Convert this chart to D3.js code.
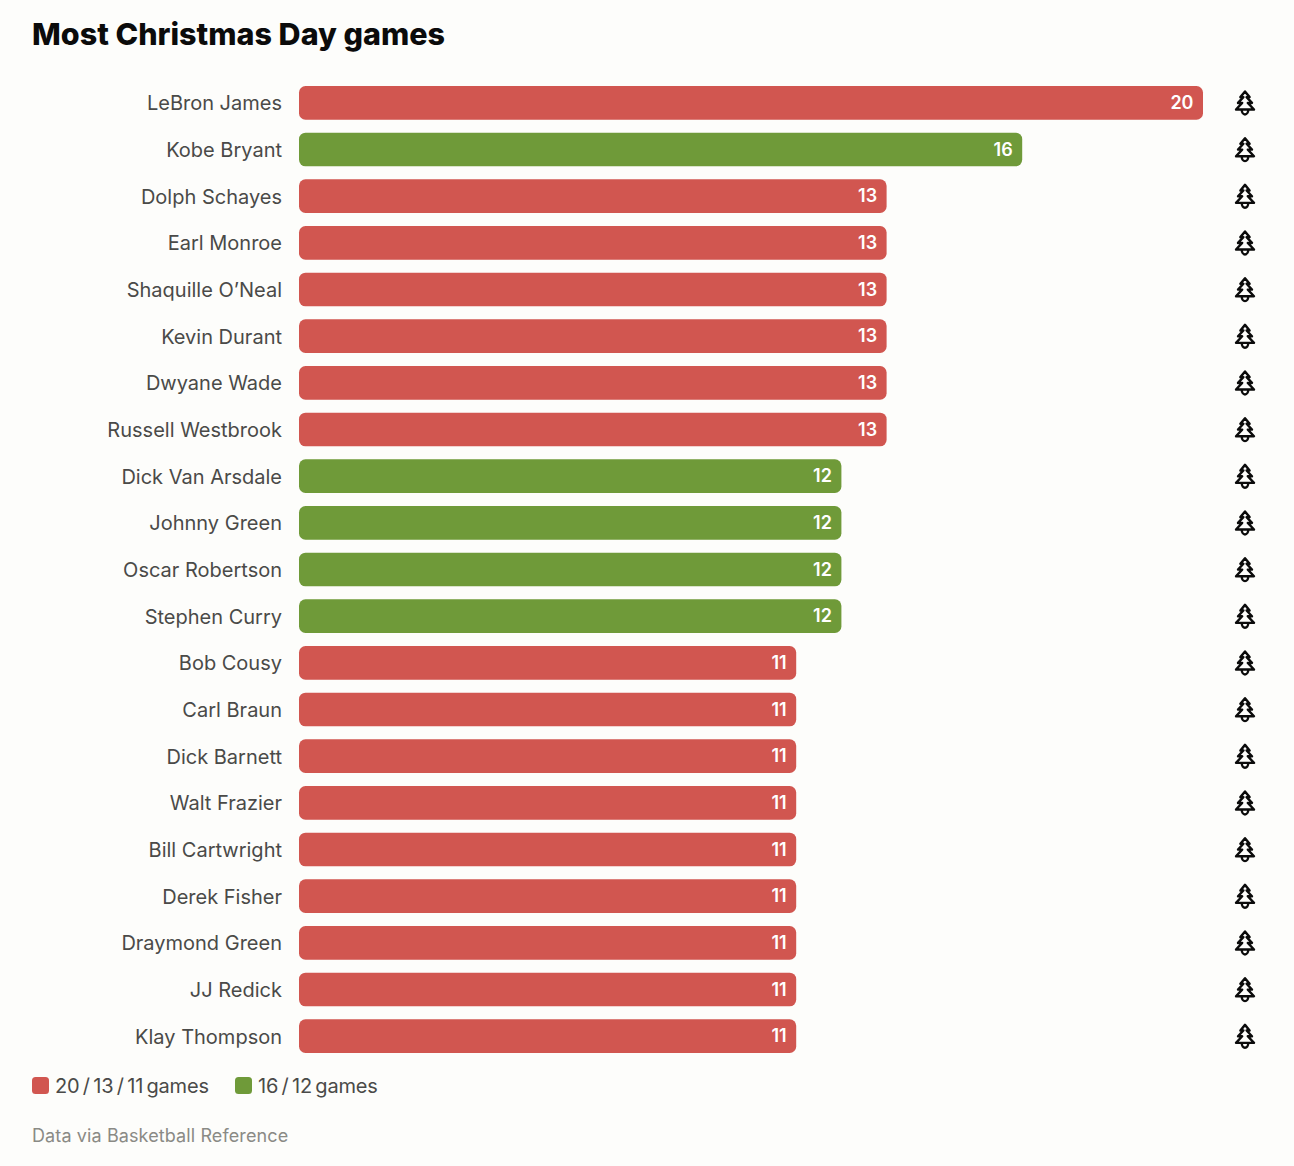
<!DOCTYPE html>
<html>
<head>
<meta charset="utf-8">
<script src="https://d3js.org/d3.v7.min.js"></script>
<style>
  html, body { margin: 0; padding: 0; background: #fdfdfb; }
  text { font-family: Inter, "Noto Sans", sans-serif; }
</style>
</head>
<body>
<div id="my_dataviz"></div>
<script>
  var players = ["LeBron James", "Kobe Bryant", "Dolph Schayes", "Earl Monroe", "Shaquille O’Neal",
    "Kevin Durant", "Dwyane Wade", "Russell Westbrook", "Dick Van Arsdale", "Johnny Green",
    "Oscar Robertson", "Stephen Curry", "Bob Cousy", "Carl Braun", "Dick Barnett", "Walt Frazier",
    "Bill Cartwright", "Derek Fisher", "Draymond Green", "JJ Redick", "Klay Thompson"];
  var games = [20, 16, 13, 13, 13, 13, 13, 13, 12, 12, 12, 12, 11, 11, 11, 11, 11, 11, 11, 11, 11];
  var legendLabels = ["20 / 13 / 11 games", "16 / 12 games"];
  var redGames = [20, 13, 11];
  var colors = ["#d15650", "#6f9a39"];

  var width = 1294, height = 1166;

  var svg = d3.select("#my_dataviz").append("svg")
    .attr("width", width)
    .attr("height", height)
    .style("display", "block");

  // scales
  var x = d3.scaleLinear().domain([0, 20]).range([299, 1203]);
  var y = d3.scaleBand().domain(players).range([79.5, 1059.5]).paddingInner(0.28).paddingOuter(0.14);

  function colorOf(v) { return redGames.indexOf(v) >= 0 ? colors[0] : colors[1]; }

  svg.append("text")
    .attr("x", 32).attr("y", 45)
    .attr("font-size", 30.5).attr("font-weight", 800)
    .attr("fill", "#0b0b0b")
    .text("Most Christmas Day games");

  var rows = svg.selectAll(".row")
    .data(players)
    .enter().append("g")
    .attr("class", "row")
    .attr("transform", function (d) { return "translate(0," + y(d) + ")"; });

  // player names
  rows.append("text")
    .attr("x", 282)
    .attr("y", y.bandwidth() / 2 + 0.5)
    .attr("dy", "0.35em")
    .attr("text-anchor", "end")
    .attr("font-size", 20)
    .attr("fill", "#4a4a48")
    .text(function (d) { return d; });

  // bars
  rows.append("rect")
    .attr("x", x(0))
    .attr("width", function (d, i) { return x(games[i]) - x(0); })
    .attr("height", y.bandwidth())
    .attr("rx", 6.5)
    .attr("fill", function (d, i) { return colorOf(games[i]); });

  // values
  rows.append("text")
    .attr("x", function (d, i) { return x(games[i]) - 9.5; })
    .attr("y", y.bandwidth() / 2)
    .attr("dy", "0.35em")
    .attr("text-anchor", "end")
    .attr("font-size", 18)
    .attr("font-weight", 600)
    .attr("fill", "#ffffff")
    .text(function (d, i) { return games[i]; });

  // little tree at the end of every row
  var treePath = "M0,-12 L4.6,-6.4 L1.6,-6.4 L7,-0.6 L2.8,-0.6 L9,6 L-9,6 L-2.8,-0.6 L-7,-0.6 L-1.6,-6.4 L-4.6,-6.4 Z";
  var trees = rows.append("g")
    .attr("transform", "translate(1245," + (y.bandwidth() / 2 + 0.7) + ")");
  trees.append("path")
    .attr("d", treePath)
    .attr("fill", "none")
    .attr("stroke", "#0b0b0b")
    .attr("stroke-width", 2.4)
    .attr("stroke-linejoin", "round");
  trees.append("path")
    .attr("d", "M-3.2,6.5 A3.2,4.4 0 0 0 3.2,6.5")
    .attr("fill", "none")
    .attr("stroke", "#0b0b0b")
    .attr("stroke-width", 2.4);

  // legend
  var legendX = [32, 235];
  var legend = svg.selectAll(".legend")
    .data(legendLabels)
    .enter().append("g")
    .attr("class", "legend")
    .attr("transform", function (d, i) { return "translate(" + legendX[i] + ",1077)"; });
  legend.append("rect")
    .attr("width", 17).attr("height", 17).attr("rx", 3.5)
    .attr("fill", function (d, i) { return colors[i]; });
  legend.append("text")
    .attr("x", 23).attr("y", 9).attr("dy", "0.35em")
    .attr("font-size", 20)
    .attr("letter-spacing", -0.2)
    .attr("word-spacing", -2)
    .attr("fill", "#4a4a48")
    .text(function (d) { return d; });

  svg.append("text")
    .attr("x", 32).attr("y", 1142)
    .attr("font-size", 18)
    .attr("letter-spacing", 0.11)
    .attr("fill", "#8a8a85")
    .text("Data via Basketball Reference");
</script>
</body>
</html>
